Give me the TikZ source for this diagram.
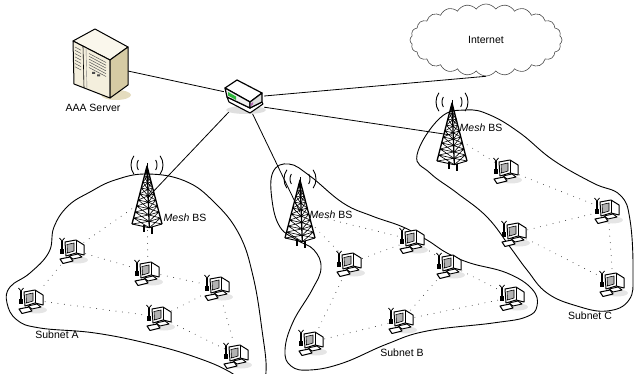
\documentclass[tikz,border=0pt]{standalone}
\usepackage{fontspec}
\setmainfont{Liberation Sans}
\usetikzlibrary{shapes.symbols}

\definecolor{srvlight}{HTML}{F4EFDD}
\definecolor{srvdark}{HTML}{D6CBA4}
\definecolor{srvtop}{HTML}{FAF7EC}
\definecolor{srvshade}{HTML}{E4DCBE}
\definecolor{ledgreen}{HTML}{2DB83A}

\tikzset{
  wire/.style={black, line width=0.8pt},
  link/.style={black!80, line width=0.95pt, line cap=round, dash pattern=on 0pt off 6.5pt},
  subnet/.style={black, line width=0.9pt},
  lbl/.style={font=\fontsize{10.5}{12}\selectfont, inner sep=0pt},
  termnode/.style={circle, minimum size=26pt, inner sep=0pt},
  bsnode/.style={rectangle, minimum width=30pt, minimum height=64pt, inner sep=0pt, anchor=north},
  % lattice tower with its radio waves, origin at the tip
  bstower/.pic={
    \draw[line width=0.9pt] (0,-1) ++(150:10) arc[start angle=150,end angle=210,radius=10];
    \draw[line width=0.9pt] (0,-1) ++(145:16) arc[start angle=145,end angle=215,radius=16];
    \draw[line width=0.9pt] (0,-1) ++(-30:10) arc[start angle=-30,end angle=30,radius=10];
    \draw[line width=0.9pt] (0,-1) ++(-35:16) arc[start angle=-35,end angle=35,radius=16];
    \draw[line width=1pt] (0,-3) -- (0,4);
    \foreach \y in {4,10,...,52}{
      \pgfmathsetmacro\wa{15*\y/58}
      \pgfmathsetmacro\wb{15*(\y+6)/58}
      \pgfmathsetmacro\fa{0.04*\y}
      \pgfmathsetmacro\fb{0.04*(\y+6)}
      \pgfmathsetmacro\ya{\y+0.25*\wa}
      \pgfmathsetmacro\yb{\y+6+0.25*\wb}
      \draw[line width=0.6pt] (-\wa,\y) -- (\fa,\ya) -- (\wa,\y)
        (-\wa,\y) -- (\fb,\yb) (\fa,\ya) -- (-\wb,\y+6)
        (\wa,\y) -- (\fb,\yb) (\fa,\ya) -- (\wb,\y+6);
    }
    \draw[line width=1.3pt, line join=round] (-15,58) -- (0,0) -- (15,58) (0,0) -- (2.3,61.7);
    \draw[line width=0.9pt] (-15,58) -- (2.3,61.7) -- (15,58);
    \draw[line width=1.1pt] (-3,59) -- (-3,66) (5,61) -- (5,68);
  },
  % desktop terminal with wireless card
  terminal/.pic={
    \fill[gray!20] (4,10) ellipse (11 and 3.5);
    \draw[line width=1.2pt] (-11,3) -- (-11,-9);
    \draw[line width=0.8pt] (-13.5,-12) -- (-11,-9) -- (-8.5,-12);
    \fill (-13,-1) rectangle (-9,4);
    \draw[fill=white, line width=1pt, line join=round] (-8,-8) -- (3,-10) -- (11,-5) -- (11,5) -- (3,3) -- (-7,6) -- cycle;
    \draw[line width=0.8pt] (3,-10) -- (3,3);
    \draw[fill=gray!60, line width=0.6pt] (-6,-5.5) -- (1,-7) -- (1,1) -- (-5.5,3) -- cycle;
    \draw[fill=white, line width=0.9pt, line join=round] (-4,6) -- (5,4) -- (9,7) -- (0,9) -- cycle;
    \draw[fill=white, line width=1pt, line join=round] (-13,9) -- (-3,7) -- (0,11) -- (-10,13.5) -- cycle;
  },
  % AAA server cabinet, origin at its middle
  aaaserver/.pic={
    \fill[srvshade] (16,30) ellipse (15 and 5);
    \draw[fill=srvtop, line width=1pt, line join=round] (-27,-24) -- (-5,-36) -- (28,-18) -- (10,-5) -- cycle;
    \draw[fill=srvlight, line width=1pt, line join=round] (-27,-24) -- (10,-5) -- (10,33) -- (-26,19) -- cycle;
    \draw[fill=srvdark, line width=1pt, line join=round] (10,-5) -- (28,-18) -- (28,20) -- (10,33) -- cycle;
    \draw[line width=0.6pt] (-17,-19) -- (-16,23);
    \draw[gray, line width=0.4pt] (-14,-17.5) -- (-13,24.5);
    \foreach \i in {0,...,6}
      \draw[gray!70!black, line width=0.5pt] (-25,-18+3.3*\i) -- (-19,-14.8+3.3*\i);
    \foreach \i in {0,...,5}
      \draw[gray!70!black, line width=0.5pt] (-11,-11.5+2.8*\i) -- (6,-2.5+2.8*\i);
    \fill[black!70] (-8,7) rectangle (-5,9) (-3,9.5) rectangle (0,11.5);
  },
  % router box
  router/.pic={
    \fill[gray!25] (2,14) ellipse (20 and 4);
    \draw[fill=white, line width=1.1pt, line join=round] (-17,1) -- (-15,6) -- (6,17) -- (19,8) -- (18,6) -- (6,12) -- cycle;
    \draw[fill=white, line width=1.2pt, line join=round] (-19,-8) -- (-7,-16) -- (18,-3) -- (6,6) -- cycle;
    \draw[fill=gray!12, line width=1.2pt, line join=round] (-19,-8) -- (6,6) -- (6,12) -- (-17,1) -- cycle;
    \draw[fill=gray!25, line width=1.2pt, line join=round] (6,6) -- (18,-3) -- (18,6) -- (6,12) -- cycle;
    \fill[ledgreen] (-16,-4) -- (-8,0.5) -- (-8,4) -- (-16,-0.5) -- cycle;
    \fill[violet!60] (6.5,8) -- (9,6.2) -- (9,8.5) -- (6.5,10.5) -- cycle;
  }
}

\begin{document}
\begin{tikzpicture}[x=1pt,y=-1pt]
  \useasboundingbox (0,0) rectangle (634,374);

  % core nodes
  \node[minimum width=56pt, minimum height=70pt] (server) at (100,65) {};
  \node[minimum width=40pt, minimum height=22pt] (router) at (244,96) {};
  \node[cloud, cloud puffs=24, cloud puff arc=110, aspect=2.1, draw=gray!60!black, line width=0.6pt,
        minimum width=152pt, minimum height=72pt, lbl] (internet) at (486,40) {Internet};

  % base stations
  \node[bsnode] (bsA) at (147,166) {};
  \node[bsnode] (bsB) at (300,180) {};
  \node[bsnode] (bsC) at (452,103) {};

  % terminals
  \foreach \n/\x/\y in {tA1/73/250, tA2/148/272, tA3/218/287, tA4/32/300, tA5/160/317, tA6/237/355,
                        tB1/413/240, tB2/350/263, tB3/450/265, tB4/513/297, tB5/402/320, tB6/312/342,
                        tC1/507/170, tC2/608/210, tC3/515/233, tC4/613/283}
    \node[termnode] (\n) at (\x,\y) {};

  % subnet borders
  \begin{scope}
    \clip (0,0) rectangle (634,374);
    \draw[subnet] plot[smooth cycle, tension=0.7] coordinates {
      (147,174) (185,181) (214,202) (239,234) (253,276) (262,330) (266,372) (258,392)
      (230,372) (195,357) (150,344) (95,333) (40,328) (17,320) (7,303) (10,287)
      (30,273) (49,252) (54,227) (68,206) (90,192) (115,180)};
    \draw[subnet] plot[smooth cycle, tension=0.7] coordinates {
      (273,172) (289,164) (310,176) (343,203) (372,216) (403,227) (427,240) (447,253)
      (470,263) (507,273) (532,289) (537,306) (526,317) (493,323) (427,331) (387,344)
      (343,363) (310,370) (291,366) (285,350) (293,322) (312,290) (321,268) (314,250)
      (297,240) (280,227) (272,200)};
    \draw[subnet] plot[smooth cycle, tension=0.7] coordinates {
      (440,118) (466,110) (490,115) (520,133) (553,160) (593,183) (620,195) (630,220)
      (633,273) (629,300) (607,311) (577,306) (547,293) (527,270) (510,247) (487,217)
      (457,193) (430,173) (417,155)};
  \end{scope}

  % backbone wires
  \draw[wire] (server) -- (router);
  \draw[wire] (router.east) -- (internet.south);
  \draw[wire] (router.south east) -- (bsC.center);
  \draw[wire] (router) -- (bsA.center);
  \draw[wire] (router) -- (bsB.center);

  % mesh links
  \foreach \a/\b in {bsA/tA1, bsA/tA2, tA1/tA2, tA1/tA4, tA2/tA3, tA4/tA5, tA5/tA3, tA5/tA6, tA3/tA6,
                     bsB/tB1, bsB/tB2, tB2/tB1, tB1/tB3, tB2/tB6, tB6/tB5, tB5/tB3, tB3/tB4, tB5/tB4,
                     bsC/tC1, tC1/tC2, tC3/tC2, tC2/tC4, tC3/tC4}
    \draw[link] (\a) -- (\b);

  % icons
  \pic at (server) {aaaserver};
  \pic at (router) {router};
  \foreach \n in {bsA,bsB,bsC}
    \pic at (\n.north) {bstower};
  \foreach \n in {tA1,tA2,tA3,tA4,tA5,tA6,tB1,tB2,tB3,tB4,tB5,tB6,tC1,tC2,tC3,tC4}
    \pic at (\n) {terminal};

  % labels
  \node[lbl] (srvlbl) at (93,108) {AAA Server};
  \node[lbl] (bslblA) at (185,218) {\textit{Mesh} BS};
  \node[lbl] (bslblB) at (331,215) {\textit{Mesh} BS};
  \node[lbl] (bslblC) at (481,128) {\textit{Mesh} BS};
  \node[lbl] (subA) at (57,335) {Subnet A};
  \node[lbl] (subB) at (402,353) {Subnet B};
  \node[lbl] (subC) at (590,316) {Subnet C};
\end{tikzpicture}
\end{document}
